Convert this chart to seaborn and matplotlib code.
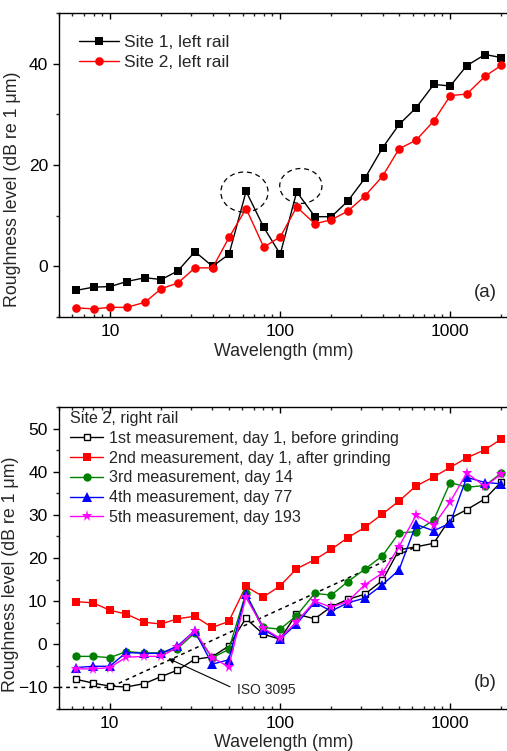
import numpy as np
import pandas as pd
import matplotlib
matplotlib.use("Agg")
import matplotlib.pyplot as plt
import seaborn as sns
from matplotlib.patches import Ellipse
from matplotlib.ticker import FixedLocator, FuncFormatter, LogLocator, NullFormatter, MultipleLocator

# ---------------- data ----------------
wavelength = [6.3, 8, 10, 12.5, 16, 20, 25, 31.5, 40, 50, 63, 80, 100, 125, 160,
              200, 250, 315, 400, 500, 630, 800, 1000, 1250, 1600, 2000]

# panel (a)
site1_left = [-4.75, -4.1, -4.0, -3.0, -2.25, -2.6, -0.9, 2.9, 0.0, 2.4, 14.8, 7.7, 2.4,
              14.7, 9.8, 9.8, 12.9, 17.4, 23.4, 28.0, 31.3, 35.9, 35.6, 39.6, 41.8, 41.2]
site2_left = [-8.2, -8.4, -8.1, -8.1, -7.1, -4.4, -3.3, -0.3, -0.3, 5.7, 11.4, 3.8, 5.8,
              11.7, 8.4, 9.2, 10.9, 13.9, 17.8, 23.2, 24.9, 28.7, 33.7, 34.0, 37.5, 39.7]
labels_a = ["Site 1, left rail", "Site 2, left rail"]

# panel (b)
meas1 = [-8.1, -9.0, -9.7, -9.9, -9.1, -7.5, -6.0, -3.5, -2.9, -0.4, 6.0, 2.3, 1.2,
         7.0, 5.9, 8.7, 10.4, 11.6, 14.8, 21.9, 22.6, 23.4, 29.2, 31.2, 33.7, 37.7]
meas2 = [9.9, 9.6, 7.9, 7.0, 5.1, 4.7, 5.9, 6.5, 3.9, 5.3, 13.4, 11.0, 13.5,
         17.5, 19.6, 22.0, 24.7, 27.1, 30.2, 33.2, 36.7, 38.8, 41.0, 43.2, 45.1, 47.6]
meas3 = [-2.8, -2.8, -3.1, -1.7, -2.0, -2.0, -1.0, 2.6, -3.1, -1.2, 11.8, 3.9, 3.5,
         6.6, 11.8, 11.4, 14.5, 17.4, 20.5, 25.8, 26.1, 28.8, 37.5, 36.4, 36.8, 39.7]
meas4 = [-5.4, -5.1, -5.1, -1.9, -2.1, -2.1, -0.4, 3.1, -4.6, -3.6, 11.7, 3.4, 1.2,
         4.7, 9.7, 7.7, 9.6, 10.7, 13.8, 17.2, 27.8, 26.3, 28.1, 38.7, 37.5, 37.2]
meas5 = [-5.7, -5.7, -5.4, -3.0, -2.8, -2.8, -0.7, 3.1, -3.1, -5.2, 10.9, 3.7, 1.4,
         5.2, 10.0, 8.6, 9.9, 13.8, 16.5, 22.6, 29.9, 27.6, 33.0, 39.7, 36.6, 39.5]
labels_b = ["1st measurement, day 1, before grinding",
            "2nd measurement, day 1, after grinding",
            "3rd measurement, day 14",
            "4th measurement, day 77",
            "5th measurement, day 193"]

iso_wavelength = [5, 10, 630]
iso_level = [-10, -10, 22.6]

# ---------------- figure ----------------
sns.set_theme(style="ticks")
plt.rcParams["font.family"] = ["Liberation Sans", "DejaVu Sans"]
plt.rcParams["axes.linewidth"] = 1.0

W, H = 507, 751
fig = plt.figure(figsize=(W / 100, H / 100), dpi=100)
ax1 = fig.add_axes([59 / W, 1 - 317 / H, (508.5 - 59) / W, 304 / H])
ax2 = fig.add_axes([58.5 / W, 1 - 709 / H, (508.5 - 58.5) / W, 302 / H])

TICK_FS = 12.5
LABEL_FS = 12.8


def draw(ax, y, color, marker, ms, label, mfc=None, mec=None):
    df = pd.DataFrame({"wavelength": wavelength, "level": y})
    sns.lineplot(data=df, x="wavelength", y="level", ax=ax, color=color,
                 marker=marker, markersize=ms, linewidth=1.0,
                 markerfacecolor=mfc if mfc else color,
                 markeredgecolor=mec if mec else color,
                 markeredgewidth=1.0 if mfc else 0.0,
                 label=label, legend=False)


# panel (a)
draw(ax1, site1_left, "black", "s", 5.2, labels_a[0])
draw(ax1, site2_left, "#ff0000", "o", 6.2, labels_a[1])

for (cx, cy, w, h) in [(0.4126, 0.411, 0.105, 0.132), (0.538, 0.431, 0.094, 0.115)]:
    ax1.add_patch(Ellipse((cx, cy), w, h, transform=ax1.transAxes, fill=False,
                          ec="black", lw=0.9, ls=(0, (4, 3))))

# panel (b)
ax2.plot(iso_wavelength, iso_level, color="black", lw=1.1, ls=(0, (2.5, 2.5)), zorder=1)
draw(ax2, meas1, "black", "s", 4.5, labels_b[0], mfc="white", mec="black")
draw(ax2, meas2, "#ff0000", "s", 5.2, labels_b[1])
draw(ax2, meas3, "#008000", "o", 6.0, labels_b[2])
draw(ax2, meas4, "#0000ff", "^", 6.5, labels_b[3])
draw(ax2, meas5, "#ff00ff", "*", 8.2, labels_b[4])

ax2.annotate("ISO 3095", xy=(22.1, -3.3), xytext=(56, -10.6), textcoords="data",
             fontsize=10, ha="left", va="center",
             arrowprops=dict(arrowstyle="-|>", color="black", lw=0.8,
                             mutation_scale=8, relpos=(0, 0.5), shrinkA=3, shrinkB=0))

# axes formatting
for ax in (ax1, ax2):
    ax.set_xscale("log")
    ax.set_xlim(5, 2200)
    ax.xaxis.set_major_locator(FixedLocator([10, 100, 1000]))
    ax.xaxis.set_major_formatter(FuncFormatter(lambda v, p: f"{v:g}"))
    ax.xaxis.set_minor_locator(LogLocator(base=10, subs=np.arange(2, 10)))
    ax.xaxis.set_minor_formatter(NullFormatter())
    ax.tick_params(axis="x", which="both", direction="in", top=True, bottom=True)
    ax.tick_params(axis="y", which="both", direction="out", left=True, right=False)
    ax.tick_params(which="major", length=4.5, width=1.0, labelsize=TICK_FS, colors="black")
    ax.tick_params(which="minor", length=2.5, width=1.0)
    ax.tick_params(axis="x", which="major", pad=5)
    ax.set_xlabel("Wavelength (mm)", fontsize=LABEL_FS, labelpad=0)
    ax.set_ylabel("Roughness level (dB re 1 μm)", fontsize=LABEL_FS)
    for s in ax.spines.values():
        s.set_color("black")
        s.set_linewidth(1.0)

ax1.set_ylim(-10, 50)
ax1.yaxis.set_major_locator(FixedLocator([0, 20, 40]))
ax1.yaxis.set_minor_locator(MultipleLocator(10))
ax2.set_ylim(-15, 55)
ax2.yaxis.set_major_locator(MultipleLocator(10))
ax2.yaxis.set_minor_locator(MultipleLocator(5))

ax1.yaxis.set_label_coords(-0.085, 0.42)
ax2.yaxis.set_label_coords(-0.088, 0.445)
ax1.xaxis.set_label_coords(0.5, -0.085)
ax2.xaxis.set_label_coords(0.5, -0.083)

ax1.text(0.949, 0.079, "(a)", transform=ax1.transAxes, fontsize=13.5, ha="center", va="center")
ax2.text(0.949, 0.089, "(b)", transform=ax2.transAxes, fontsize=13.5, ha="center", va="center")

leg1 = ax1.legend(loc="upper left", bbox_to_anchor=(0.044, 0.929), frameon=False,
                  fontsize=12.5, handlelength=2.3, handletextpad=0.3,
                  labelspacing=0.32, borderpad=0, borderaxespad=0, numpoints=1)
leg2 = ax2.legend(loc="upper left", bbox_to_anchor=(0.026, 0.987), frameon=False,
                  fontsize=11.6, handlelength=2.05, handletextpad=0.35,
                  labelspacing=0.30, borderpad=0, borderaxespad=0, numpoints=1,
                  title="Site 2, right rail", title_fontsize=11.6, alignment="left")

fig.savefig("out.png", dpi=100)
